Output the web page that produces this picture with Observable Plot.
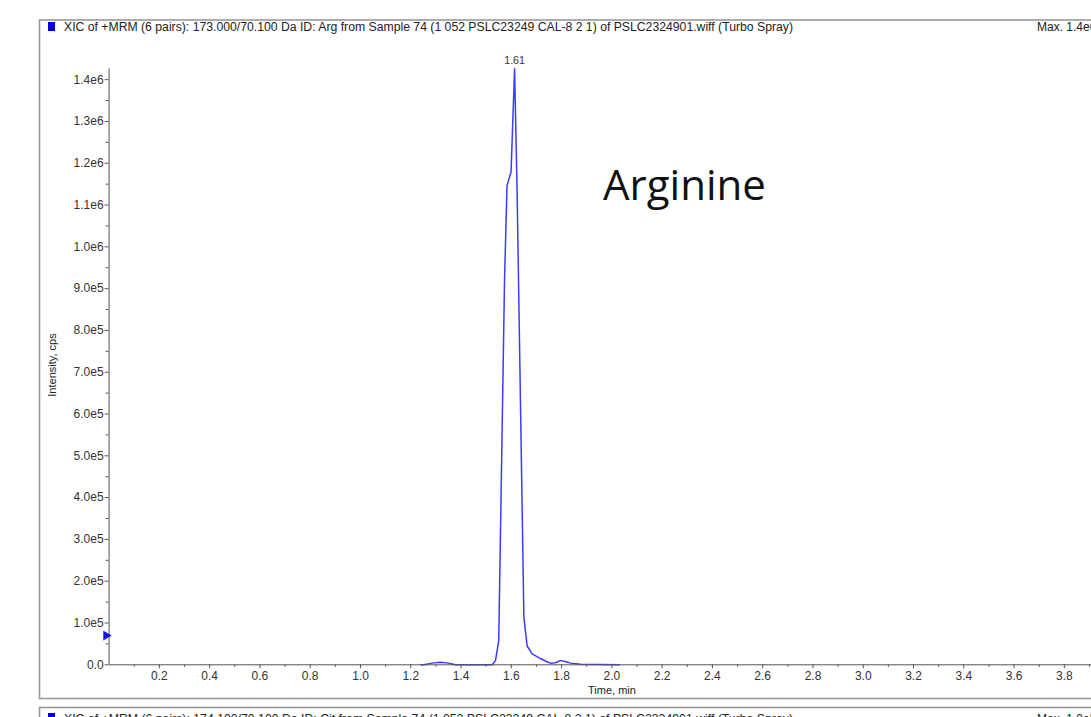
<!DOCTYPE html>
<html><head><meta charset="utf-8">
<script src="https://cdn.jsdelivr.net/npm/d3@7"></script>
<script src="https://cdn.jsdelivr.net/npm/@observablehq/plot@0.6"></script>
<style>
html,body{margin:0;padding:0;width:1091px;height:717px;overflow:hidden;background:#fff;}
#wrap{position:relative;width:1091px;height:717px;overflow:hidden;}
#wrap svg{position:absolute;left:0;top:0;}
</style></head><body><div id="wrap"></div>
<script>
// ---- data ----
const times =     [1.240, 1.252, 1.285, 1.318, 1.350, 1.378, 1.450, 1.524, 1.537, 1.550, 1.573, 1.583, 1.599, 1.613, 1.623, 1.650, 1.663, 1.683, 1.716, 1.740, 1.756, 1.775, 1.795, 1.815, 1.835, 1.875, 1.950, 2.030];
const intensity = [0,     0,     4000,  6000,  4000,  0,     0,     0,     10000, 58000, 920000, 1147000, 1179000, 1426000, 1135000, 114000, 45000, 26000, 15000, 8000, 4000, 5000, 10000, 8000, 4000, 1500, 500, 0];
const xMajorTicks = [0.2,0.4,0.6,0.8,1.0,1.2,1.4,1.6,1.8,2.0,2.2,2.4,2.6,2.8,3.0,3.2,3.4,3.6,3.8];
const xMinorTicks = [0.1,0.3,0.5,0.7,0.9,1.1,1.3,1.5,1.7,1.9,2.1,2.3,2.5,2.7,2.9,3.1,3.3,3.5,3.7,3.9];
const yMajorTicks = [0,100000,200000,300000,400000,500000,600000,700000,800000,900000,1000000,1100000,1200000,1300000,1400000];
const yMinorTicks = [50000,150000,250000,350000,450000,550000,650000,750000,850000,950000,1050000,1150000,1250000,1350000];
const peakTime = [1.613];
const peakValue = [1426000];
const peakLabels = ["1.61"];
const thresholdTime = [-0.012];
const thresholdValue = [70000];
const compoundName = "Arginine";
const titleText = "XIC of +MRM (6 pairs): 173.000/70.100 Da ID: Arg from Sample 74 (1 052 PSLC23249 CAL-8 2 1) of PSLC2324901.wiff (Turbo Spray)";
const maxText = "Max. 1.4e6 cps.";
const nextTitleText = "XIC of +MRM (6 pairs): 174.100/70.100 Da ID: Cit from Sample 74 (1 052 PSLC23249 CAL-8 2 1) of PSLC2324901.wiff (Turbo Spray)";
const nextMaxText = "Max. 1.0e5 cps.";
const xLabel = "Time, min";
const yLabel = "Intensity, cps";

const rows = times.map((t, i) => ({t, v: intensity[i]}));
const peaks = peakTime.map((t, i) => ({t, v: peakValue[i], label: peakLabels[i]}));
const marker = thresholdTime.map((t, i) => ({t, v: thresholdValue[i]}));

const yFmt = d => d === 0 ? "0.0" : d.toExponential(1).replace("e+", "e");
const font = "'Liberation Sans', Arial, sans-serif";
const ink = "#333";

const chart = Plot.plot({
  width: 1091, height: 717,
  marginLeft: 108.6, marginRight: 0, marginTop: 68.3, marginBottom: 52.7,
  x: {domain: [0, 3.908]},
  y: {domain: [0, 1426000]},
  style: {fontFamily: font, color: ink, background: "transparent", overflow: "visible"},
  marks: [
    Plot.line(rows, {x: "t", y: "v", stroke: "#3c3cff", strokeWidth: 1.5}),
    Plot.ruleY([0], {stroke: "#555", strokeWidth: 1}),
    Plot.ruleX([0], {stroke: "#555", strokeWidth: 1}),
    Plot.axisX(xMajorTicks, {tickSize: 4, tickPadding: 2.5, tickFormat: d => d.toFixed(1), fontSize: 12, stroke: "#555", label: null}),
    Plot.axisX(xMinorTicks.filter(d => d < 3.908), {tickSize: 2.5, tickFormat: () => "", stroke: "#555", label: null}),
    Plot.axisY(yMajorTicks, {tickSize: 4, tickPadding: 1.5, tickFormat: yFmt, fontSize: 12, stroke: "#555", label: null}),
    Plot.axisY(yMinorTicks, {tickSize: 3, tickFormat: () => "", stroke: "#555", label: null}),
    Plot.dot(marker, {x: "t", y: "v", symbol: "triangle", rotate: 90, r: 3.6, fill: "#1010ee", stroke: "none"}),
    Plot.text(peaks, {x: "t", y: "v", text: "label", dy: -8, fontSize: 10.5, fill: ink})
  ]
});
document.getElementById("wrap").appendChild(chart);

const svg = d3.select(chart);
const g = svg.append("g").attr("text-anchor", "start");
// panel frames
g.append("rect").attr("x", 39.5).attr("y", 20).attr("width", 1100).attr("height", 678.5)
  .attr("fill", "none").attr("stroke", "#999").attr("stroke-width", 1.6);
g.append("rect").attr("x", 39.5).attr("y", 707.5).attr("width", 1100).attr("height", 100)
  .attr("fill", "none").attr("stroke", "#999").attr("stroke-width", 1.6);
// blue squares
g.append("rect").attr("x", 48).attr("y", 22).attr("width", 7).attr("height", 9).attr("fill", "#0000dd");
g.append("rect").attr("x", 48).attr("y", 713).attr("width", 7).attr("height", 9).attr("fill", "#0000dd");
// titles
g.append("text").attr("x", 64).attr("y", 31).attr("font-family", font).attr("font-size", 12)
  .attr("fill", "#222").attr("textLength", 729).attr("lengthAdjust", "spacingAndGlyphs").text(titleText);
g.append("text").attr("x", 1037).attr("y", 31).attr("font-family", font).attr("font-size", 12)
  .attr("fill", "#222").text(maxText);
g.append("text").attr("x", 64).attr("y", 723).attr("font-family", font).attr("font-size", 12)
  .attr("fill", "#222").attr("textLength", 729).attr("lengthAdjust", "spacingAndGlyphs").text(nextTitleText);
g.append("text").attr("x", 1037).attr("y", 723).attr("font-family", font).attr("font-size", 12)
  .attr("fill", "#222").text(nextMaxText);
// axis titles
g.append("text").attr("x", 612).attr("y", 694).attr("text-anchor", "middle").attr("font-family", font)
  .attr("font-size", 11).attr("fill", "#222").text(xLabel);
g.append("text").attr("transform", "translate(56,365) rotate(-90)").attr("text-anchor", "middle")
  .attr("font-family", font).attr("font-size", 11).attr("fill", "#222").text(yLabel);
// compound name
g.append("text").attr("x", 603).attr("y", 200).attr("font-family", "'Open Sans', sans-serif")
  .attr("font-size", 42).attr("fill", "#111").text(compoundName);
</script>
</body></html>
